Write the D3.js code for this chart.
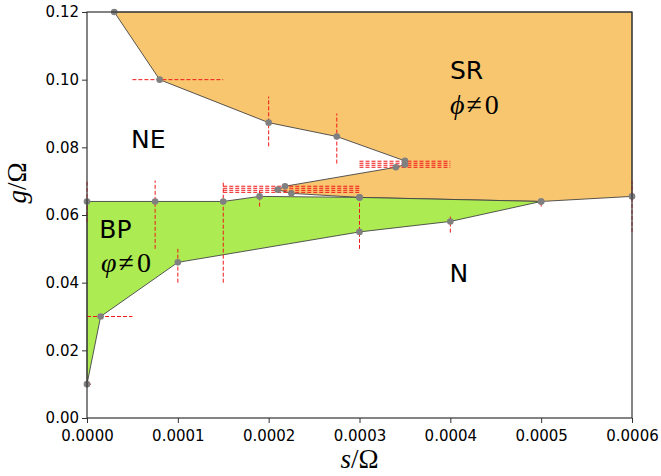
<!DOCTYPE html>
<html>
<head>
<meta charset="utf-8">
<script src="https://cdn.jsdelivr.net/npm/d3@7"></script>
<style>
  body { margin: 0; background: #fff; }
  .tick text { font-family: "DejaVu Sans", sans-serif; font-size: 15px; fill: #000; }
  .region { font-family: "DejaVu Sans", sans-serif; font-size: 25px; fill: #000; }
  .mathlbl { font-family: "Liberation Serif", "DejaVu Serif", serif; fill: #000; }
</style>
</head>
<body>
<div class="chart"></div>
<script>
// Phase diagram data

// SR region boundary (orange)
var srS = [0.00003, 0.00008, 0.0002, 0.000275, 0.00035, 0.00035, 0.00034, 0.000218, 0.00021, 0.000225, 0.0003, 0.0005, 0.0006, 0.0006];
var srG = [0.12, 0.100, 0.0873, 0.0832, 0.0760, 0.0749, 0.0741, 0.0685, 0.0675, 0.0664, 0.0652, 0.0640, 0.0655, 0.12];
var srPts = [true, true, true, true, true, true, true, true, true, true, true, true, true, false];

// BP region boundary (green)
var bpS = [0, 0.000075, 0.00015, 0.00019, 0.0003, 0.0005, 0.0004, 0.0003, 0.0001, 0.000015, 0];
var bpG = [0.064, 0.064, 0.064, 0.0655, 0.0652, 0.0640, 0.0581, 0.0550, 0.0460, 0.0300, 0.0100];

// vertical error bars: s, g low, g high
var vErrS = [0, 0.000075, 0.00015, 0.00019, 0.0002, 0.000275, 0.0003, 0.0004, 0.0005, 0.0006, 0.0001];
var vErrLo = [0.058, 0.050, 0.040, 0.0625, 0.0803, 0.0752, 0.050, 0.0548, 0.0625, 0.055, 0.040];
var vErrHi = [0.070, 0.0702, 0.0702, 0.0672, 0.095, 0.090, 0.0652, 0.060, 0.0641, 0.070, 0.050];

// horizontal error bars: g, s low, s high
var hErrG = [0.100, 0.030, 0.010, 0.0759, 0.0753, 0.0747, 0.0741, 0.0685, 0.0679, 0.0673, 0.0667];
var hErrLo = [0.00005, 0, 0, 0.0003, 0.0003, 0.0003, 0.0003, 0.00015, 0.00015, 0.00015, 0.00015];
var hErrHi = [0.00015, 0.00005, 0.000005, 0.0004, 0.0004, 0.0004, 0.0004, 0.0003, 0.0003, 0.0003, 0.0003];

var xTicks = [0, 0.0001, 0.0002, 0.0003, 0.0004, 0.0005, 0.0006];
var yTicks = [0, 0.02, 0.04, 0.06, 0.08, 0.10, 0.12];

var svgWidth = 661;
var svgHeight = 476;
var margin = { top: 12, right: 29, bottom: 58, left: 87 };
var width = svgWidth - margin.left - margin.right;
var height = svgHeight - margin.top - margin.bottom;

var svg = d3.select(".chart").append("svg")
  .attr("width", svgWidth)
  .attr("height", svgHeight);

var chartGroup = svg.append("g")
  .attr("transform", `translate(${margin.left}, ${margin.top})`);

var xScale = d3.scaleLinear().domain([0, 0.0006]).range([0, width]);
var yScale = d3.scaleLinear().domain([0, 0.12]).range([height, 0]);

var line = d3.line().x(d => xScale(d[0])).y(d => yScale(d[1]));

var srPoly = srS.map((s, i) => [s, srG[i]]);
var bpPoly = bpS.map((s, i) => [s, bpG[i]]);

// filled regions
chartGroup.append("path")
  .attr("d", line(srPoly) + "Z")
  .attr("fill", "#f9c670")
  .attr("stroke", "#444")
  .attr("stroke-width", 0.9);

chartGroup.append("path")
  .attr("d", line(bpPoly) + "Z")
  .attr("fill", "#adeb53")
  .attr("stroke", "#444")
  .attr("stroke-width", 0.9);

// error bars
var errGroup = chartGroup.append("g")
  .attr("stroke", "#f01818")
  .attr("stroke-width", 1)
  .attr("stroke-dasharray", "4,2");

vErrS.forEach(function(s, i) {
  errGroup.append("line")
    .attr("x1", xScale(s)).attr("x2", xScale(s))
    .attr("y1", yScale(vErrLo[i])).attr("y2", yScale(vErrHi[i]));
});
hErrG.forEach(function(g, i) {
  errGroup.append("line")
    .attr("x1", xScale(hErrLo[i])).attr("x2", xScale(hErrHi[i]))
    .attr("y1", yScale(g)).attr("y2", yScale(g));
});

// data points
var pts = srPoly.filter((d, i) => srPts[i]).concat(bpPoly);
chartGroup.selectAll(".pt")
  .data(pts)
  .enter()
  .append("circle")
  .attr("class", "pt")
  .attr("cx", d => xScale(d[0]))
  .attr("cy", d => yScale(d[1]))
  .attr("r", 3.3)
  .attr("fill", "#808080");

// axes
var bottomAxis = d3.axisBottom(xScale).tickValues(xTicks).tickFormat(d3.format(".4f")).tickSizeOuter(0).tickSize(5).tickPadding(7);
var leftAxis = d3.axisLeft(yScale).tickValues(yTicks).tickFormat(d3.format(".2f")).tickSizeOuter(0).tickSize(5).tickPadding(3);

var xAxis = chartGroup.append("g")
  .attr("transform", `translate(0, ${height})`)
  .call(bottomAxis);
var yAxis = chartGroup.append("g").call(leftAxis);

[xAxis, yAxis].forEach(function(ax) {
  ax.select(".domain").remove();
  ax.selectAll(".tick line").attr("stroke", "#333").attr("stroke-width", 1);
});

// frame
chartGroup.append("rect")
  .attr("width", width)
  .attr("height", height)
  .attr("fill", "none")
  .attr("stroke", "#333")
  .attr("stroke-width", 1.2);

// region labels
function regionLabel(s, g, txt) {
  chartGroup.append("text").attr("class", "region")
    .attr("x", xScale(s)).attr("y", yScale(g))
    .text(txt);
}
regionLabel(0.0000485, 0.0798, "NE");
regionLabel(0.0003995, 0.1001, "SR");
regionLabel(0.0000135, 0.0531, "BP");
regionLabel(0.000399, 0.0401, "N");

function mathLabel(s, g, sym) {
  var t = chartGroup.append("text").attr("class", "mathlbl")
    .attr("x", xScale(s)).attr("y", yScale(g))
    .attr("font-size", 28);
  t.append("tspan").attr("font-style", "italic").text(sym);
  t.append("tspan").attr("dx", 2).text("≠");
  t.append("tspan").attr("dx", 3).text("0");
}
mathLabel(0.0003995, 0.0900, "ϕ");
mathLabel(0.0000155, 0.0431, "φ");

// axis labels
var xl = svg.append("text").attr("class", "mathlbl")
  .attr("x", margin.left + width / 2).attr("y", 468)
  .attr("text-anchor", "middle")
  .attr("font-size", 27);
xl.append("tspan").attr("font-style", "italic").text("s");
xl.append("tspan").text("/Ω");

var yl = svg.append("text").attr("class", "mathlbl")
  .attr("transform", `translate(26, 183) rotate(-90)`)
  .attr("text-anchor", "middle")
  .attr("font-size", 27);
yl.append("tspan").attr("font-style", "italic").text("g");
yl.append("tspan").text("/Ω");
</script>
</body>
</html>
